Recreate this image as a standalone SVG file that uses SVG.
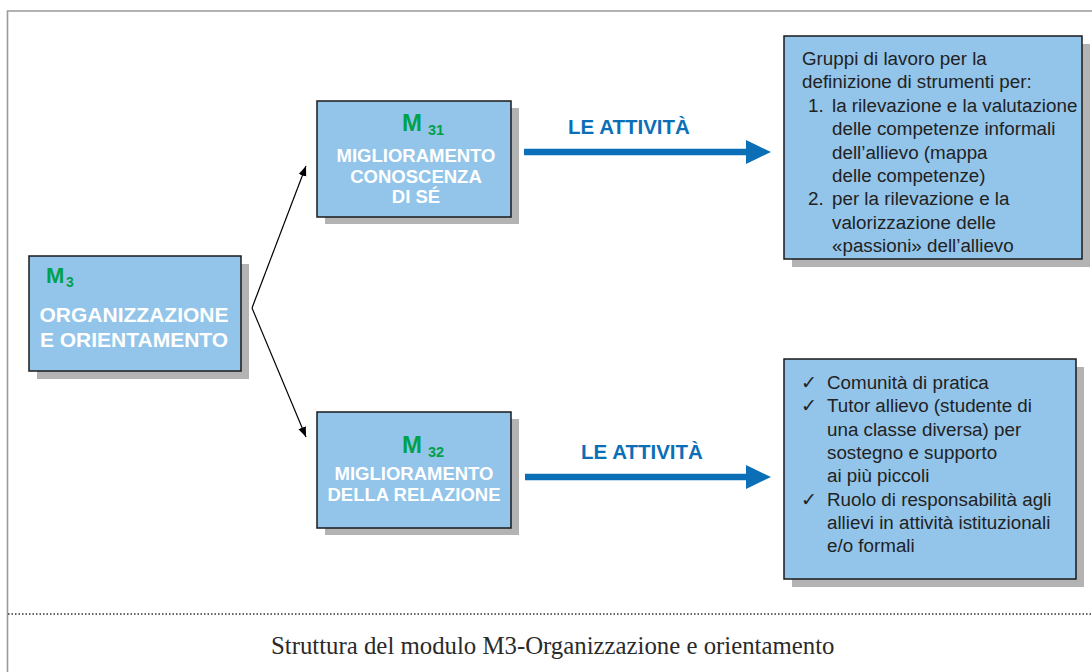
<svg xmlns="http://www.w3.org/2000/svg" width="1092" height="672" viewBox="0 0 1092 672">
<defs>
<style>
.box{fill:#93c5ea;stroke:#1a1a1a;stroke-width:1.5}
.shadow{fill:#b3b3b3}
.h{font-family:"Liberation Sans",Arial,sans-serif;font-weight:bold;fill:#ffffff;text-anchor:middle}
.m{font-family:"Liberation Sans",Arial,sans-serif;font-weight:bold;fill:#00a14b}
.act{font-family:"Liberation Sans",Arial,sans-serif;font-weight:bold;fill:#0a6fb7;font-size:20.5px}
.t{font-family:"Liberation Sans",Arial,sans-serif;fill:#222222;font-size:18.8px}
.ck{font-family:"DejaVu Sans",sans-serif;fill:#222222;font-size:19px}
</style>
<marker id="ah" viewBox="0 0 10 10" refX="10" refY="5" markerWidth="10" markerHeight="10" markerUnits="userSpaceOnUse" orient="auto">
<path d="M0,1 L10,5 L0,9 Z" fill="#000"/>
</marker>
</defs>
<rect width="1092" height="672" fill="#ffffff"/>
<g id="frame">
<path d="M7.5,672 V11 H1092" fill="none" stroke="#9a9a9a" stroke-width="1.6"/>
<line x1="8" y1="614" x2="1092" y2="614" stroke="#333" stroke-width="1.6" stroke-dasharray="1.5 2"/>
</g>
<g id="connectors">
<line x1="252" y1="308" x2="306" y2="166" stroke="#000" stroke-width="1.2" marker-end="url(#ah)"/>
<line x1="252" y1="308" x2="306" y2="437" stroke="#000" stroke-width="1.2" marker-end="url(#ah)"/>
<line x1="524" y1="152" x2="748" y2="152" stroke="#0a6fb7" stroke-width="6.5"/>
<polygon points="746,140 771,152 746,164" fill="#0a6fb7"/>
<line x1="525" y1="477" x2="748" y2="477" stroke="#0a6fb7" stroke-width="6.5"/>
<polygon points="746,465 771,477 746,489" fill="#0a6fb7"/>
<text class="act" x="568" y="134">LE ATTIVITÀ</text>
<text class="act" x="581" y="459">LE ATTIVITÀ</text>
</g>
<g id="m3">
<rect class="shadow" x="37" y="264" width="212" height="115"/>
<rect class="box" x="29" y="256" width="212" height="115"/>
<text class="m" x="46" y="283" font-size="22">M</text>
<text class="m" x="66" y="287" font-size="14">3</text>
<text class="h" x="134" y="322" font-size="21">ORGANIZZAZIONE</text>
<text class="h" x="134" y="347" font-size="21">E ORIENTAMENTO</text>
</g>
<g id="m31">
<rect class="shadow" x="325" y="108" width="194" height="116"/>
<rect class="box" x="317" y="101" width="194" height="116"/>
<text class="m" x="402" y="131" font-size="24">M</text>
<text class="m" x="428" y="135" font-size="14.5">31</text>
<text class="h" x="416" y="162" font-size="18.5">MIGLIORAMENTO</text>
<text class="h" x="416" y="182.5" font-size="18.5">CONOSCENZA</text>
<text class="h" x="416" y="203" font-size="18.5">DI SÉ</text>
</g>
<g id="m32">
<rect class="shadow" x="325" y="419" width="194" height="116"/>
<rect class="box" x="317" y="412" width="194" height="116"/>
<text class="m" x="402" y="453" font-size="24">M</text>
<text class="m" x="428" y="457" font-size="14.5">32</text>
<text class="h" x="414" y="480" font-size="18.5">MIGLIORAMENTO</text>
<text class="h" x="414" y="501" font-size="18.5">DELLA RELAZIONE</text>
</g>
<g id="act31">
<rect class="shadow" x="792" y="44" width="298" height="223"/>
<rect class="box" x="784" y="36" width="298" height="223"/>
<text class="t" x="802" y="65">Gruppi di lavoro per la</text>
<text class="t" x="802" y="88.4">definizione di strumenti per:</text>
<text class="t" x="808" y="111.8">1.</text>
<text class="t" x="832" y="111.8">la rilevazione e la valutazione</text>
<text class="t" x="832" y="135.2">delle competenze informali</text>
<text class="t" x="832" y="158.6">dell’allievo (mappa</text>
<text class="t" x="832" y="182">delle competenze)</text>
<text class="t" x="808" y="205.4">2.</text>
<text class="t" x="832" y="205.4">per la rilevazione e la</text>
<text class="t" x="832" y="228.8">valorizzazione delle</text>
<text class="t" x="832" y="252.2">«passioni» dell’allievo</text>
</g>
<g id="act32">
<rect class="shadow" x="792" y="367" width="292" height="220"/>
<rect class="box" x="784" y="359" width="292" height="220"/>
<text class="ck" x="801" y="389">✓</text>
<text class="t" x="827" y="389">Comunità di pratica</text>
<text class="ck" x="801" y="412.3">✓</text>
<text class="t" x="827" y="412.3">Tutor allievo (studente di</text>
<text class="t" x="827" y="435.6">una classe diversa) per</text>
<text class="t" x="827" y="458.9">sostegno e supporto</text>
<text class="t" x="827" y="482.2">ai più piccoli</text>
<text class="ck" x="801" y="505.5">✓</text>
<text class="t" x="827" y="505.5">Ruolo di responsabilità agli</text>
<text class="t" x="827" y="528.8">allievi in attività istituzionali</text>
<text class="t" x="827" y="552.1">e/o formali</text>
</g>
<text x="271" y="654" font-family="'Liberation Serif','Times New Roman',serif" font-size="24.8" fill="#2a2a2a">Struttura del modulo M3-Organizzazione e orientamento</text>
</svg>
